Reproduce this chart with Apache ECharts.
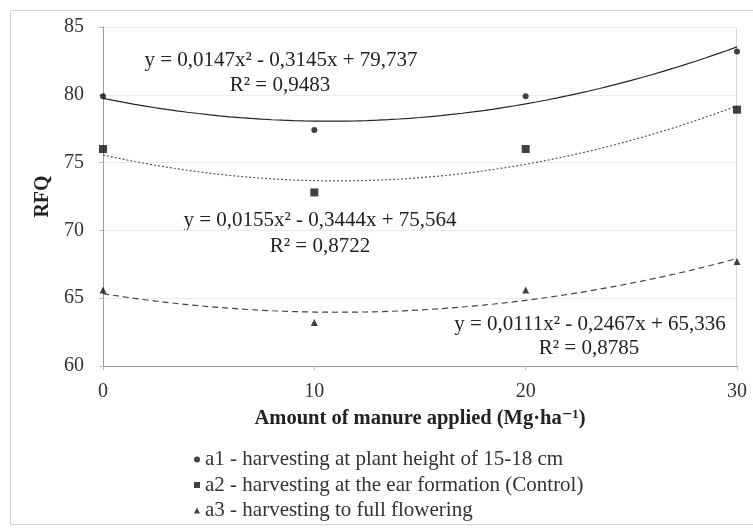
<!DOCTYPE html>
<html>
<head>
<meta charset="utf-8">
<script src="https://cdn.jsdelivr.net/npm/echarts@6/dist/echarts.min.js"></script>
<style>
  html, body { margin: 0; padding: 0; background: #fff; }
  #chart { width: 753px; height: 528px; }
</style>
</head>
<body>
<div id="chart"></div>
<script>
// Manure doses (Mg·ha-1)
const doses = [0, 10, 20, 30];

// Relative forage quality per harvest stage
const a1Values = [79.9, 77.4, 79.9, 83.2];
const a2Values = [76.0, 72.8, 76.0, 78.9];
const a3Values = [65.6, 63.2, 65.6, 67.7];

// Quadratic fits [c2, c1, c0] as printed on the chart
const a1Fit = [0.0147, -0.3145, 79.737];
const a2Fit = [0.0155, -0.3444, 75.564];
const a3Fit = [0.0111, -0.2467, 65.336];

const seriesNames = [
  'a1 - harvesting at plant height of 15-18 cm',
  'a2 - harvesting at the ear formation (Control)',
  'a3 - harvesting to full flowering'
];

const yTicks = [60, 65, 70, 75, 80, 85];

function pairs(xs, ys) { return xs.map((x, i) => [x, ys[i]]); }
function fitCurve(c) {
  const pts = [];
  for (let x = 0; x <= 30.0001; x += 0.5) pts.push([x, c[0] * x * x + c[1] * x + c[2]]);
  return pts;
}

const serif = '"Liberation Serif", "DejaVu Serif", serif';
const eqStyle = (text) => ({ text, fontFamily: serif, fontSize: 21, fill: '#222', align: 'center', verticalAlign: 'middle' });

const chart = echarts.init(document.getElementById('chart'));

chart.setOption({
  animation: false,
  backgroundColor: '#fff',
  grid: { left: 103, right: 16, top: 27, bottom: 162 },
  xAxis: {
    type: 'value', min: 0, max: 30, interval: 10,
    name: 'Amount of manure applied (Mg·ha⁻¹)',
    nameLocation: 'middle', nameGap: 42,
    nameTextStyle: { fontFamily: serif, fontSize: 20.5, fontWeight: 'bold', color: '#222' },
    axisLine: { lineStyle: { color: '#9a9a9a' } },
    axisTick: { show: true, length: 4, lineStyle: { color: '#bbb' } },
    axisLabel: { fontFamily: serif, fontSize: 20, color: '#333', margin: 16 },
    splitLine: { show: false }
  },
  yAxis: {
    type: 'value', min: yTicks[0], max: yTicks[yTicks.length - 1], interval: 5,
    name: 'RFQ', nameLocation: 'middle', nameGap: 49,
    nameTextStyle: { fontFamily: serif, fontSize: 20, fontWeight: 'bold', color: '#222' },
    axisLine: { show: true, lineStyle: { color: '#9a9a9a' } },
    axisTick: { show: true, length: 4, lineStyle: { color: '#bbb' } },
    axisLabel: { fontFamily: serif, fontSize: 20, color: '#333', margin: 19 },
    splitLine: { show: true, lineStyle: { color: '#ececec', width: 1 } }
  },
  legend: {
    orient: 'vertical', left: 194, top: 449, itemGap: 4.5, padding: 0,
    itemWidth: 6, itemHeight: 6,
    textStyle: { fontFamily: serif, fontSize: 21, lineHeight: 21, color: '#333' },
    data: [
      { name: seriesNames[0], icon: 'circle' },
      { name: seriesNames[1], icon: 'rect' },
      { name: seriesNames[2], icon: 'triangle' }
    ]
  },
  graphic: [
    { type: 'rect', shape: { x: 10.5, y: 10.5, width: 760, height: 514 },
      style: { fill: 'none', stroke: '#d0d0d0', lineWidth: 1 }, silent: true },
    { type: 'line', shape: { x1: 736.5, y1: 27, x2: 736.5, y2: 366 },
      style: { stroke: '#d8d8d8', lineWidth: 1 }, silent: true },
    { type: 'text', x: 281, y: 60, style: eqStyle('y = 0,0147x² - 0,3145x + 79,737') },
    { type: 'text', x: 280, y: 85, style: eqStyle('R² = 0,9483') },
    { type: 'text', x: 320, y: 220, style: eqStyle('y = 0,0155x² - 0,3444x + 75,564') },
    { type: 'text', x: 320, y: 246, style: eqStyle('R² = 0,8722') },
    { type: 'text', x: 590, y: 324, style: eqStyle('y = 0,0111x² - 0,2467x + 65,336') },
    { type: 'text', x: 589, y: 348, style: eqStyle('R² = 0,8785') }
  ],
  series: [
    { name: 'a1 fit', type: 'line', data: fitCurve(a1Fit), showSymbol: false, smooth: false,
      lineStyle: { color: '#222', width: 1.2, type: 'solid' }, z: 2 },
    { name: 'a2 fit', type: 'line', data: fitCurve(a2Fit), showSymbol: false, smooth: false,
      lineStyle: { color: '#555', width: 1.2, type: [2, 2] }, z: 2 },
    { name: 'a3 fit', type: 'line', data: fitCurve(a3Fit), showSymbol: false, smooth: false,
      lineStyle: { color: '#444', width: 1.2, type: [6, 4] }, z: 2 },
    { name: seriesNames[0], type: 'scatter', data: pairs(doses, a1Values),
      symbol: 'circle', symbolSize: 6, itemStyle: { color: '#111' }, z: 3 },
    { name: seriesNames[1], type: 'scatter', data: pairs(doses, a2Values),
      symbol: 'rect', symbolSize: 8, itemStyle: { color: '#111' }, z: 3 },
    { name: seriesNames[2], type: 'scatter', data: pairs(doses, a3Values),
      symbol: 'triangle', symbolSize: 7, itemStyle: { color: '#111' }, z: 3 }
  ]
});
</script>
</body>
</html>
